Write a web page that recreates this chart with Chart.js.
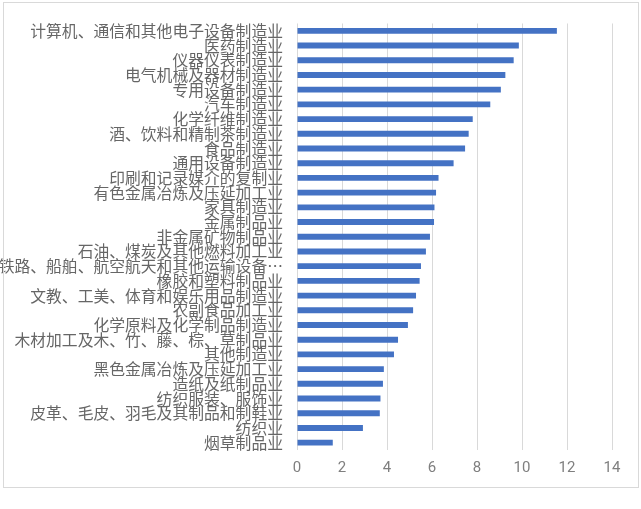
<!DOCTYPE html>
<html>
<head>
<meta charset="utf-8">
<script src="https://cdn.jsdelivr.net/npm/chart.js@4"></script>
<style>
  html, body { margin: 0; padding: 0; background: #fff; }
  #wrap { position: relative; width: 641px; height: 509px; }
  #frame { position: absolute; left: 3px; top: 2px; width: 634px; height: 484px; border: 1px solid #d9d9d9; pointer-events: none; }
  canvas { position: absolute; left: 0; top: 0; }
</style>
</head>
<body>
<div id="wrap">
  <canvas id="c" width="641" height="509"></canvas>
  <div id="frame"></div>
</div>
<script>
const categories = [
  "计算机、通信和其他电子设备制造业",
  "医药制造业",
  "仪器仪表制造业",
  "电气机械及器材制造业",
  "专用设备制造业",
  "汽车制造业",
  "化学纤维制造业",
  "酒、饮料和精制茶制造业",
  "食品制造业",
  "通用设备制造业",
  "印刷和记录媒介的复制业",
  "有色金属冶炼及压延加工业",
  "家具制造业",
  "金属制品业",
  "非金属矿物制品业",
  "石油、煤炭及其他燃料加工业",
  "铁路、船舶、航空航天和其他运输设备…",
  "橡胶和塑料制品业",
  "文教、工美、体育和娱乐用品制造业",
  "农副食品加工业",
  "化学原料及化学制品制造业",
  "木材加工及木、竹、藤、棕、草制品业",
  "其他制造业",
  "黑色金属冶炼及压延加工业",
  "造纸及纸制品业",
  "纺织服装、服饰业",
  "皮革、毛皮、羽毛及其制品和制鞋业",
  "纺织业",
  "烟草制品业"
];
const values = [
  11.55, 9.86, 9.63, 9.26, 9.06, 8.59, 7.81, 7.63, 7.47, 6.96,
  6.29, 6.18, 6.11, 6.09, 5.91, 5.73, 5.51, 5.45, 5.29, 5.16,
  4.93, 4.49, 4.31, 3.86, 3.82, 3.71, 3.68, 2.93, 1.59
];
const xTicks = [0, 2, 4, 6, 8, 10, 12, 14];

new Chart(document.getElementById('c'), {
  type: 'bar',
  data: {
    labels: categories,
    datasets: [{
      data: values,
      backgroundColor: '#4472C4',
      borderWidth: 0,
      barPercentage: 0.8,
      categoryPercentage: 0.5
    }]
  },
  options: {
    indexAxis: 'y',
    responsive: false,
    animation: false,
    devicePixelRatio: 1,
    layout: { padding: { left: 0, right: 29, top: 22, bottom: 0 } },
    plugins: { legend: { display: false }, tooltip: { enabled: false } },
    scales: {
      x: {
        min: 0, max: 14,
        afterBuildTicks: (s) => { s.ticks = xTicks.map(v => ({ value: v })); },
        afterFit: (s) => { s.height = 59; },
        grid: { color: '#d9d9d9', lineWidth: 1, drawTicks: false },
        border: { display: false },
        ticks: {
          color: '#7f7f7f',
          padding: 9,
          font: { family: 'Roboto, "Noto Sans", sans-serif', size: 15 }
        }
      },
      y: {
        afterFit: (s) => { s.width = 297; },
        grid: { display: false, drawTicks: false },
        border: { display: false },
        ticks: {
          autoSkip: false,
          color: '#666666',
          padding: 14,
          font: { family: '"Noto Sans CJK SC", sans-serif', size: 15.8 }
        }
      }
    }
  }
});
</script>
</body>
</html>
